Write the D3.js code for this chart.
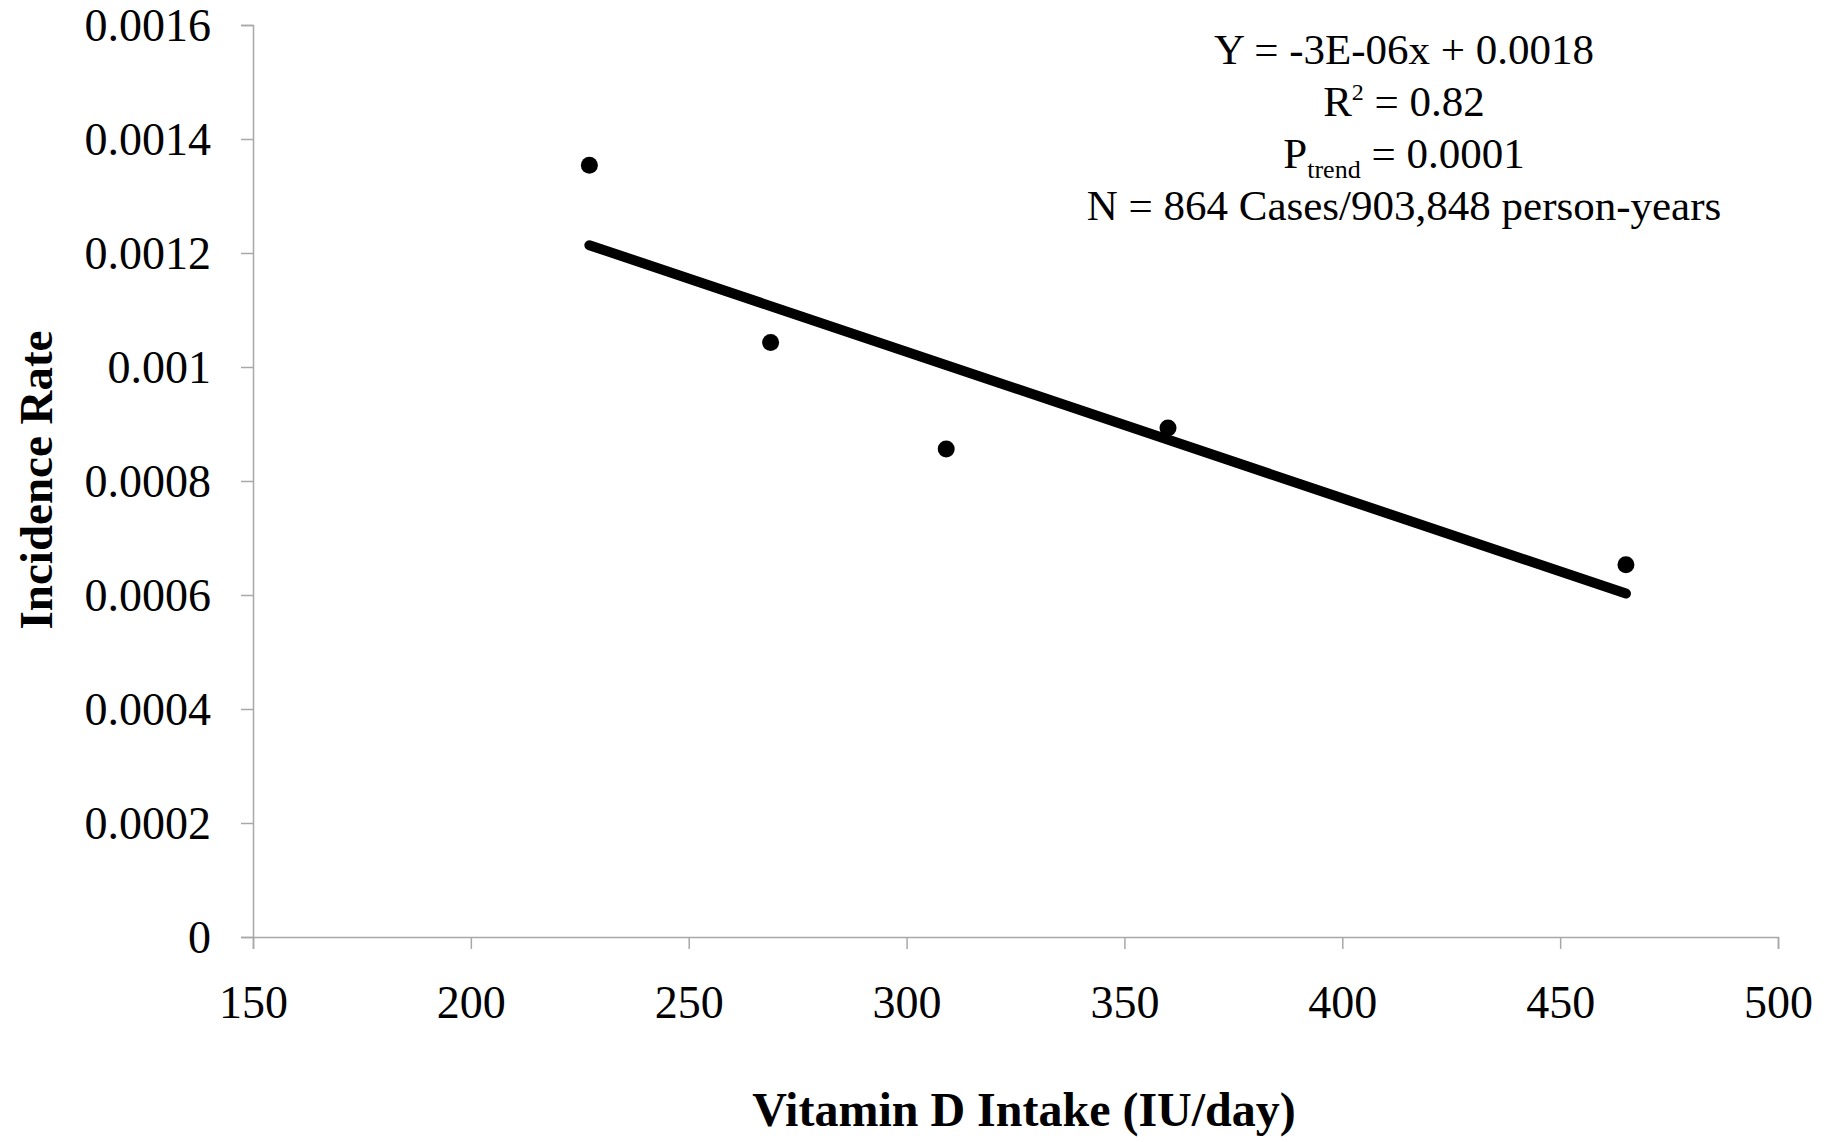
<!DOCTYPE html>
<html lang="en">

<head>
    <meta charset="UTF-8">
    <title>Vitamin D Intake vs Incidence Rate</title>
    <script src="https://d3js.org/d3.v7.min.js"></script>
    <style>
        body { margin: 0; background: #fff; }
        text { font-family: "Liberation Serif", "DejaVu Serif", serif; fill: #000; }
    </style>
</head>

<body>
    <svg class="svgs" width="1835" height="1142"></svg>

    <script>
        // data
        const intake = [227.2, 268.8, 309.1, 360.0, 465.1];
        const incidence = [0.001354, 0.001043, 0.000856, 0.000893, 0.000653];
        const xTicks = [150, 200, 250, 300, 350, 400, 450, 500];
        const yTicks = [0, 0.0002, 0.0004, 0.0006, 0.0008, 0.001, 0.0012, 0.0014, 0.0016];
        const statLines = ['Y = -3E-06x + 0.0018', 'R2', 'Ptrend', 'N = 864 Cases/903,848 person-years'];

        const svg = d3.select('.svgs');
        const width = +svg.attr('width');
        const height = +svg.attr('height');
        const margin = { top: 25, bottom: 205, left: 253, right: 57 };
        const innerWidth = width - margin.left - margin.right;
        const innerHeight = height - margin.top - margin.bottom;

        const points = intake.map((x, i) => ({ x: x, y: incidence[i] }));

        const xScale = d3.scaleLinear().domain([150, 500]).range([0, innerWidth]);
        const yScale = d3.scaleLinear().domain([0, 0.0016]).range([innerHeight, 0]);

        const g = svg.append('g')
            .attr('transform', `translate(${margin.left}, ${margin.top})`);

        // axes
        const xAxis = d3.axisBottom(xScale).tickValues(xTicks).tickSize(12).tickPadding(36)
            .tickFormat(d3.format('d'));
        const yAxis = d3.axisLeft(yScale).tickValues(yTicks).tickSize(12).tickPadding(30)
            .tickFormat(d => d === 0 ? '0' : String(+d.toFixed(4)));

        const xg = g.append('g').attr('transform', `translate(0, ${innerHeight})`).call(xAxis);
        const yg = g.append('g').call(yAxis);
        [xg, yg].forEach(ax => {
            ax.selectAll('path, line').attr('stroke', '#a8a8a8').attr('stroke-width', 1.5);
            ax.selectAll('text').attr('font-size', 46).attr('font-family', '"Liberation Serif", serif').attr('fill', '#000');
        });
        yg.selectAll('text').attr('dy', '0.34em');

        // linear trend (least squares of the points)
        const mx = d3.mean(points, d => d.x);
        const my = d3.mean(points, d => d.y);
        const slope = d3.sum(points, d => (d.x - mx) * (d.y - my)) / d3.sum(points, d => (d.x - mx) ** 2);
        const icpt = my - slope * mx;
        const ext = d3.extent(intake);
        g.append('line')
            .attr('x1', xScale(ext[0])).attr('y1', yScale(icpt + slope * ext[0]))
            .attr('x2', xScale(ext[1])).attr('y2', yScale(icpt + slope * ext[1]))
            .attr('stroke', '#000').attr('stroke-width', 10).attr('stroke-linecap', 'round');

        g.selectAll('circle').data(points).enter().append('circle')
            .attr('cx', d => xScale(d.x))
            .attr('cy', d => yScale(d.y))
            .attr('r', 8.5)
            .attr('fill', '#000');

        // stats text
        const stats = svg.append('text')
            .attr('font-size', 43)
            .attr('text-anchor', 'middle');
        statLines.forEach((s, i) => {
            const t = stats.append('tspan').attr('x', 1404).attr('y', 64 + i * 52);
            if (s === 'R2') {
                t.text('R');
                t.append('tspan').attr('font-size', 24).attr('dy', -16).text('2');
                t.append('tspan').attr('dy', 16).text(' = 0.82');
            } else if (s === 'Ptrend') {
                t.text('P');
                t.append('tspan').attr('font-size', 26).attr('dy', 10).text('trend');
                t.append('tspan').attr('dy', -10).text(' = 0.0001');
            } else {
                t.text(s);
            }
        });

        // axis titles
        svg.append('text')
            .attr('x', 1024).attr('y', 1126)
            .attr('text-anchor', 'middle')
            .attr('font-size', 48).attr('font-weight', 'bold')
            .text('Vitamin D Intake (IU/day)');

        svg.append('text')
            .attr('transform', 'translate(52, 480) rotate(-90)')
            .attr('text-anchor', 'middle')
            .attr('font-size', 47).attr('font-weight', 'bold')
            .text('Incidence Rate');
    </script>
</body>

</html>
